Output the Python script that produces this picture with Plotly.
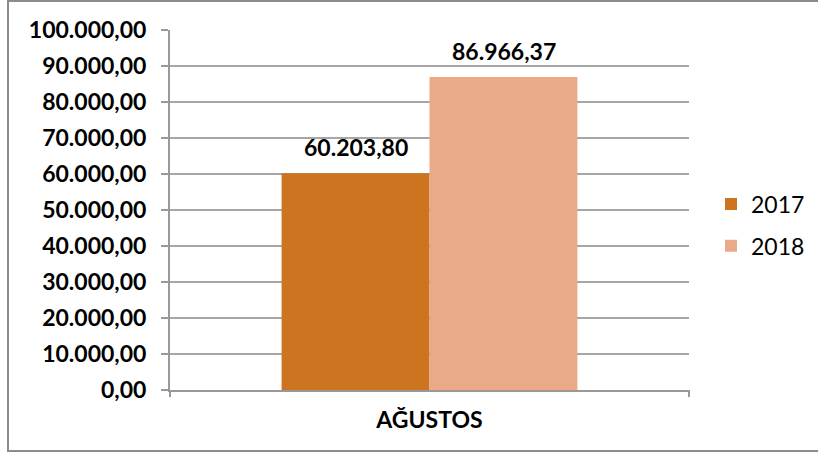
import plotly.graph_objects as go

categories = ["AĞUSTOS"]
series_names = ["2017", "2018"]
values_2017 = [60203.80]
values_2018 = [86966.37]
labels_2017 = ["60.203,80"]
labels_2018 = ["86.966,37"]
tick_vals = [0, 10000, 20000, 30000, 40000, 50000, 60000, 70000, 80000, 90000, 100000]
tick_text = ["0,00", "10.000,00", "20.000,00", "30.000,00", "40.000,00", "50.000,00",
             "60.000,00", "70.000,00", "80.000,00", "90.000,00", "100.000,00"]

colors = ["#CC741F", "#EAAA88"]
FONT = "Lato"

W, H = 818, 453
L, R, T, B = 170, 129, 30, 63
pw = W - L - R
ph = H - T - B
bar_px = 148

fig = go.Figure()
annotations = []
for i, (name, vals, labs, col) in enumerate(zip(series_names, [values_2017, values_2018],
                                                [labels_2017, labels_2018], colors)):
    fig.add_trace(go.Bar(
        x=categories, y=vals, name=name, marker_color=col, marker_line_width=0,
        legendgroup=name,
    ))
    for c, v, t in zip(categories, vals, labs):
        annotations.append(dict(
            x=c, y=v, xref="x", yref="y", text=t, showarrow=False,
            xanchor="center", yanchor="bottom",
            xshift=(i - 0.5) * bar_px, yshift=10,
            font=dict(family=FONT, size=23, color="black", weight="bold"),
        ))

fig.update_layout(
    width=W, height=H,
    margin=dict(l=L, r=R, t=T, b=B, autoexpand=False),
    paper_bgcolor="white", plot_bgcolor="white",
    barmode="group", bargap=0.43, bargroupgap=0,
    showlegend=True,
    legend=dict(x=(711 - L) / pw, y=(390 - 225) / ph, xanchor="left", yanchor="middle",
                font=dict(family=FONT, size=23, color="black"),
                itemsizing="constant", tracegroupgap=9, bgcolor="rgba(0,0,0,0)"),
    font=dict(family=FONT),
    xaxis=dict(showline=True, linecolor="#999999", linewidth=2,
               ticks="", ticklabelstandoff=8,
               tickfont=dict(family=FONT, size=23, color="black", weight="bold"),
               showgrid=False),
    yaxis=dict(range=[0, 100000], tickvals=tick_vals, ticktext=tick_text,
               showgrid=True, gridcolor="#A6A6A6", gridwidth=2,
               showline=True, linecolor="#999999", linewidth=2,
               ticks="outside", ticklen=7, tickcolor="#999999", tickwidth=2,
               ticklabelstandoff=10,
               tickfont=dict(family=FONT, size=23, color="black", weight="bold"),
               zeroline=False),
    annotations=annotations,
    shapes=[
        dict(type="rect", xref="paper", yref="paper",
             x0=(8 - L) / pw, x1=(830 - L) / pw,
             y0=(H - B - 451) / ph, y1=(H - B - 1) / ph,
             line=dict(color="#8C8C8C", width=2), fillcolor="rgba(0,0,0,0)", layer="below"),
        dict(type="line", xref="paper", yref="paper", x0=0, x1=0,
             y0=0, y1=-7 / ph, line=dict(color="#999999", width=2)),
        dict(type="line", xref="paper", yref="paper", x0=1, x1=1,
             y0=0, y1=-7 / ph, line=dict(color="#999999", width=2)),
    ],
)

fig.write_html("out.html", config={"displayModeBar": False},
               post_script="document.body.style.margin='0';")
